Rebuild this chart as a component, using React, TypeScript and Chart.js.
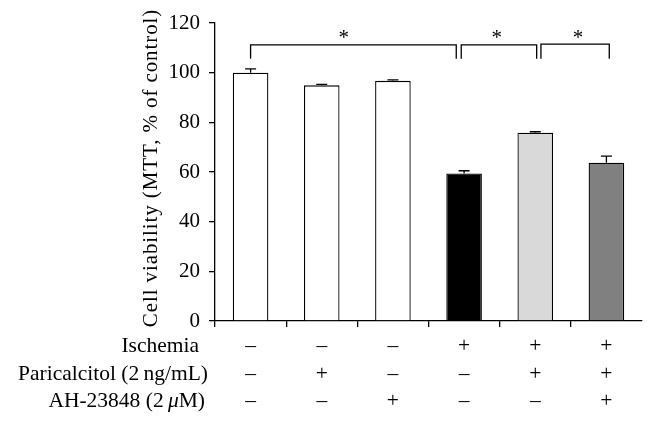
import React, { useEffect, useRef } from "react";
import { Chart, registerables } from "chart.js";

Chart.register(...registerables);

const categories = ["C1", "C2", "C3", "C4", "C5", "C6"];
const viability = [100, 94.9, 96.7, 59.4, 75.8, 63.7];
const errors = [1.5, 0.4, 0.4, 1.1, 0.4, 2.7];
const barColors = ["#ffffff", "#ffffff", "#ffffff", "#000000", "#d9d9d9", "#808080"];
const yTicks = { min: 0, max: 120, step: 20 };
const yTitle = "Cell viability (MTT, % of control)";

const rowLabels = ["Ischemia", "Paricalcitol (2\u2009ng/mL)", "AH-23848 (2\u2009"];
const ischemia = [false, false, false, true, true, true];
const paricalcitol = [false, true, false, false, true, true];
const ah23848 = [false, false, true, false, false, true];

// significance brackets: [from index, to index, bracket top value, leg bottom value]
const brackets = [
  [0, 2.89, 111.2, 105.6],
  [2.96, 4.02, 111.2, 105.6],
  [4.08, 5.04, 111.5, 105.6],
];
const starPositions = [1.31, 3.46, 4.6];
const starValue = 115.5;

const FONT = "'Liberation Serif', 'Times New Roman', serif";

export default function App() {
  const ref = useRef<HTMLCanvasElement | null>(null);

  useEffect(() => {
    document.body.style.margin = "0";
    const canvas = ref.current;
    if (!canvas) return;

    const overlay = {
      id: "overlay",
      afterDatasetsDraw(chart: any) {
        const ctx = chart.ctx;
        const x = chart.scales.x;
        const y = chart.scales.y;
        const meta = chart.getDatasetMeta(0);
        ctx.save();
        ctx.strokeStyle = "#000";
        ctx.lineWidth = 1.3;
        // error bars (upward only)
        meta.data.forEach((bar: any, i: number) => {
          const yv = y.getPixelForValue(viability[i]);
          const ye = y.getPixelForValue(viability[i] + errors[i]);
          ctx.beginPath();
          ctx.moveTo(bar.x, yv);
          ctx.lineTo(bar.x, ye);
          ctx.moveTo(bar.x - 5.5, ye);
          ctx.lineTo(bar.x + 5.5, ye);
          ctx.stroke();
        });
        // brackets
        brackets.forEach(([a, b, top, leg]) => {
          const xa = x.getPixelForValue(a);
          const xb = x.getPixelForValue(b);
          const yt = y.getPixelForValue(top);
          const yl = y.getPixelForValue(leg);
          ctx.beginPath();
          ctx.moveTo(xa, yl);
          ctx.lineTo(xa, yt);
          ctx.lineTo(xb, yt);
          ctx.lineTo(xb, yl);
          ctx.stroke();
        });
        ctx.fillStyle = "#000";
        ctx.font = `21px ${FONT}`;
        ctx.textAlign = "center";
        ctx.textBaseline = "middle";
        starPositions.forEach((p) => {
          ctx.fillText("*", x.getPixelForValue(p), y.getPixelForValue(starValue) + 4);
        });
        ctx.restore();
      },
      afterDraw(chart: any) {
        const ctx = chart.ctx;
        const x = chart.scales.x;
        ctx.save();
        ctx.fillStyle = "#000";
        // y title
        ctx.font = `21px ${FONT}`;
        (ctx as any).letterSpacing = "0.9px";
        ctx.translate(151, 168);
        ctx.rotate(-Math.PI / 2);
        ctx.textAlign = "center";
        ctx.textBaseline = "middle";
        ctx.fillText(yTitle, 0, 0);
        (ctx as any).letterSpacing = "0px";
        ctx.restore();

        ctx.save();
        ctx.fillStyle = "#000";
        const F = `21.5px ${FONT}`;
        const FI = `italic 21.5px ${FONT}`;
        ctx.font = F;
        ctx.textBaseline = "alphabetic";
        const rowY = [352, 380, 407];
        const rowRight = [199, 208, 205];
        const rows = [ischemia, paricalcitol, ah23848];
        rows.forEach((row, r) => {
          const yy = rowY[r];
          if (r === 2) {
            ctx.font = F;
            const w1 = ctx.measureText(rowLabels[2]).width;
            ctx.font = FI;
            const w2 = ctx.measureText("\u03bc").width;
            ctx.font = F;
            const w3 = ctx.measureText("M)").width;
            let sx = rowRight[r] - (w1 + w2 + w3);
            ctx.textAlign = "left";
            ctx.fillText(rowLabels[2], sx, yy);
            sx += w1;
            ctx.font = FI;
            ctx.fillText("\u03bc", sx, yy);
            sx += w2;
            ctx.font = F;
            ctx.fillText("M)", sx, yy);
          } else {
            ctx.textAlign = "right";
            ctx.fillText(rowLabels[r], rowRight[r], yy);
          }
          ctx.textAlign = "center";
          row.forEach((on, i) => {
            ctx.fillText(on ? "+" : "\u2013", x.getPixelForValue(i), yy);
          });
        });
        ctx.restore();
      },
    };

    const chart = new Chart(canvas, {
      type: "bar",
      data: {
        labels: categories,
        datasets: [
          {
            data: viability,
            backgroundColor: barColors,
            borderColor: "#000",
            borderWidth: 1.3,
            categoryPercentage: 1,
            barPercentage: 0.5,
          },
        ],
      },
      options: {
        animation: false,
        responsive: false,
        maintainAspectRatio: false,
        devicePixelRatio: 1,
        layout: { padding: { left: 0, right: 14, top: 23, bottom: 0 } },
        plugins: { legend: { display: false }, tooltip: { enabled: false } },
        scales: {
          x: {
            afterFit(scale: any) {
              scale.height = 107;
            },
            ticks: { display: false },
            grid: {
              offset: true,
              drawOnChartArea: false,
              tickLength: 6,
              lineWidth: 1.3,
              color: (c: any) => (c.index === undefined ? "rgba(0,0,0,0)" : "#000"),
            },
            border: { color: "#000", width: 1.3 },
          },
          y: {
            min: yTicks.min,
            max: yTicks.max,
            afterFit(scale: any) {
              scale.width = 215;
            },
            ticks: {
              stepSize: yTicks.step,
              color: "#000",
              font: { family: FONT, size: 21 },
              padding: 9,
            },
            grid: { drawOnChartArea: false, tickLength: 6, color: "#000", lineWidth: 1.3 },
            border: { color: "#000", width: 1.3 },
          },
        },
      },
      plugins: [overlay],
    });
    return () => chart.destroy();
  }, []);

  return (
    <div style={{ width: 656, height: 428, position: "relative", background: "#fff" }}>
      <canvas ref={ref} width={656} height={428} style={{ display: "block", width: 656, height: 428 }} />
    </div>
  );
}
